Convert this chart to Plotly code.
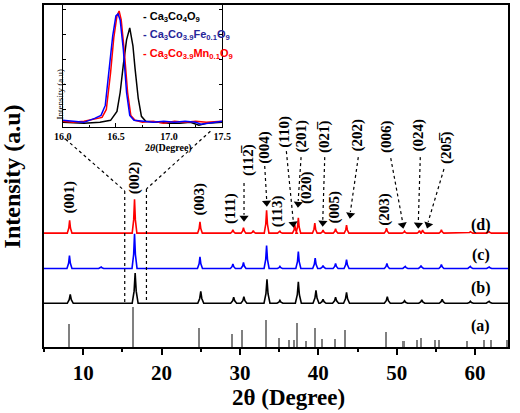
import plotly.graph_objects as go

# ---------------- data ----------------
X_RANGE = [5, 64.2]
Y_RANGE = [0, 344]

# XRD peaks: (2theta, height above baseline)
peaks_d = [(8.27, 13), (16.55, 34), (24.9, 11.5), (29.1, 3.5), (30.45, 5.5), (31.7, 2.5),
           (33.4, 23), (35.1, 2), (37.0, 8), (37.45, 15.5), (39.55, 10), (40.6, 3),
           (42.2, 4.5), (43.6, 8), (48.7, 5), (51.0, 2), (52.9, 2.5), (53.3, 3),
           (55.7, 3.5), (59.4, 1.5), (61.8, 1.5)]
peaks_c = [(8.25, 13), (12.3, 1.5), (16.55, 35), (24.9, 11.7), (29.1, 4.5), (30.45, 6),
           (33.4, 23), (35.1, 2), (37.45, 17), (39.6, 10.5), (40.6, 3), (42.2, 5),
           (43.6, 9), (48.75, 5), (51.1, 2), (53.1, 3), (55.7, 4), (59.4, 2), (61.8, 1.5)]
peaks_b = [(8.35, 9), (16.63, 30.5), (25.0, 12), (29.2, 6), (30.5, 6.5), (33.45, 24),
           (35.1, 3), (37.45, 21.5), (39.7, 13), (40.6, 4), (42.2, 6), (43.6, 11),
           (48.8, 6.5), (51.0, 2.5), (53.2, 3.5), (55.8, 4), (59.4, 2), (61.8, 2)]
offset_d, offset_c, offset_b = 114.5, 79, 44

# reference pattern (a): stick positions and intensities
ref_pos = [8.18, 16.43, 24.8, 29.0, 30.34, 33.35, 35.07, 36.3, 36.9, 37.35, 38.45, 39.55,
           40.45, 42.1, 43.45, 48.65, 50.9, 52.6, 53.1, 54.95, 55.45, 59.05, 61.15, 62.1, 64.1]
ref_int = [23, 40, 19, 13.5, 17.5, 27.5, 9, 7, 7.5, 24, 6, 19,
           8.5, 8.5, 17.5, 15, 6, 7.5, 9.5, 7, 7.5, 6, 7.5, 7, 7]

# inset (002) region
ins_black_x = [16.0, 16.2, 16.35, 16.45, 16.51, 16.54, 16.57, 16.6, 16.63, 16.66, 16.68, 16.71,
               16.74, 16.78, 16.9, 17.0, 17.1, 17.2, 17.28, 17.35, 17.5]
ins_black_y = [5, 4, 5, 7, 16, 35, 63, 88, 100, 82, 59, 29, 11, 6, 5, 4, 4, 5, 2, 4, 5]
ins_red_x = [16.0, 16.1, 16.2, 16.3, 16.37, 16.41, 16.45, 16.48, 16.51, 16.53, 16.55, 16.58,
             16.61, 16.64, 16.68, 16.75, 16.85, 16.95, 17.05, 17.15, 17.25, 17.35, 17.5]
ins_red_y = [6, 5, 6, 8, 10, 18, 55, 90, 112, 117, 108, 75, 35, 12, 7, 5, 6, 4, 6, 5, 6, 5, 6]
ins_blue_x = [16.0, 16.1, 16.2, 16.3, 16.36, 16.4, 16.44, 16.47, 16.5, 16.52, 16.54, 16.57,
              16.6, 16.63, 16.67, 16.75, 16.85, 16.95, 17.05, 17.15, 17.25, 17.3, 17.5]
ins_blue_y = [7, 6, 5, 9, 12, 22, 60, 92, 112, 114, 108, 78, 35, 12, 7, 6, 5, 6, 5, 6, 5, 3, 6]

# Miller index labels (text, 2theta, y)
hkl_labels = [("(001)", 8.27, 151), ("(002)", 16.63, 170), ("(003)", 24.86, 149),
              ("(111)", 28.88, 139), ("(11\u0032\u0305)", 31.02, 188), ("(004)", 33.03, 201),
              ("(110)", 35.67, 217), ("(113)", 34.79, 137), ("(201)", 37.81, 212),
              ("(020)", 38.56, 160), ("(021\u0305)", 40.70, 212), ("(005)", 42.08, 141),
              ("(202)", 44.97, 213), ("(203)", 48.49, 139), ("(006)", 48.61, 212),
              ("(024)", 52.76, 213), ("(205\u0305)", 56.28, 201)]
# arrows: start (x, y) -> end (x, y), head angle
arrows = [((30.52, 165), (30.52, 133), 0), ((33.16, 182), (33.41, 148), -3),
          ((35.92, 197), (36.80, 127), -6), ((37.80, 191), (37.43, 147), 4),
          ((40.82, 191), (40.57, 128), 2), ((45.10, 191), (44.09, 136), 8),
          ((49.24, 190), (50.75, 126), -11), ((53.01, 191), (52.76, 126), 2),
          ((56.03, 179), (54.02, 126), 17)]
zoom_guides = [((7.76, 209), (15.30, 157)), ((15.30, 157), (15.30, 45)),
               ((26.23, 217), (18.07, 159)), ((18.07, 159), (18.07, 45))]
pattern_labels = [("(d)", 123), ("(c)", 93), ("(b)", 59), ("(a)", 21)]
legend_items = [("- Ca<sub>3</sub>Co<sub>4</sub>O<sub>9</sub>", "#000000"),
                ("- Ca<sub>3</sub>Co<sub>3.9</sub>Fe<sub>0.1</sub>O<sub>9</sub>", "#262699"),
                ("- Ca<sub>3</sub>Co<sub>3.9</sub>Mn<sub>0.1</sub>O<sub>9</sub>", "#ff0000")]

SERIF = "Liberation Serif, Times New Roman, serif"
SANS = "Liberation Sans, Arial, sans-serif"


def build(peaks, offset, hw):
    xs, ys = [X_RANGE[0]], [offset]
    for p, h in peaks:
        xs += [p - hw, p - hw * 0.35, p, p + hw * 0.35, p + hw]
        ys += [offset, offset + 0.4 * h, offset + h, offset + 0.4 * h, offset]
    xs.append(X_RANGE[1])
    ys.append(offset)
    return xs, ys


fig = go.Figure()

# reference sticks
fig.add_trace(go.Bar(x=ref_pos, y=ref_int, width=0.2, marker=dict(color="#808080", line=dict(width=0)),
                     showlegend=False, xaxis="x", yaxis="y"))

for peaks, off, col, hw in [(peaks_b, offset_b, "#000000", 0.38),
                            (peaks_c, offset_c, "#0000ff", 0.32),
                            (peaks_d, offset_d, "#ff0000", 0.3)]:
    xs, ys = build(peaks, off, hw)
    fig.add_trace(go.Scatter(x=xs, y=ys, mode="lines", line=dict(color=col, width=1.6),
                             showlegend=False, xaxis="x", yaxis="y"))

# arrow heads
fig.add_trace(go.Scatter(x=[a[1][0] for a in arrows], y=[a[1][1] - 3 for a in arrows], mode="markers",
                         marker=dict(symbol="triangle-down", size=8, color="black",
                                     angle=[a[2] for a in arrows]),
                         showlegend=False, xaxis="x", yaxis="y", hoverinfo="skip"))

# inset
for xs, ys, col in [(ins_black_x, ins_black_y, "#000000"), (ins_red_x, ins_red_y, "#ff0000"),
                    (ins_blue_x, ins_blue_y, "#0000ff")]:
    fig.add_trace(go.Scatter(x=xs, y=ys, mode="lines", line=dict(color=col, width=1.5),
                             showlegend=False, xaxis="x2", yaxis="y2"))

shapes = []
for (x0, y0), (x1, y1), _ in arrows:
    shapes.append(dict(type="line", xref="x", yref="y", x0=x0, y0=y0, x1=x1, y1=y1,
                       line=dict(color="black", width=1.2, dash="dot")))
for (x0, y0), (x1, y1) in zoom_guides:
    shapes.append(dict(type="line", xref="x", yref="y", x0=x0, y0=y0, x1=x1, y1=y1,
                       line=dict(color="black", width=1.2, dash="dot")))

annotations = []
for txt, x, y in hkl_labels:
    annotations.append(dict(text=txt, x=x, y=y, xref="x", yref="y", showarrow=False, textangle=-90,
                            font=dict(family=SERIF, size=15, color="black", weight="bold")))
for txt, y in pattern_labels:
    annotations.append(dict(text=txt, x=60.7, y=y, xref="x", yref="y", showarrow=False,
                            font=dict(family=SERIF, size=16, color="black", weight="bold")))
for i, (txt, col) in enumerate(legend_items):
    annotations.append(dict(text=txt, x=0.208, y=0.965 - i * 0.054, xref="paper", yref="paper",
                            xanchor="left", yanchor="middle", showarrow=False,
                            font=dict(family=SANS, size=11, color=col, weight="bold")))
annotations.append(dict(text="2\u03b8 (Degree)", x=0.5265, y=-0.148, xref="paper", yref="paper",
                        showarrow=False, yanchor="middle",
                        font=dict(family=SERIF, size=23, color="black", weight="bold")))
annotations.append(dict(text="Intensity (a.u)", x=-0.068, y=0.5, xref="paper", yref="paper",
                        showarrow=False, textangle=-90, xanchor="center", yanchor="middle",
                        font=dict(family=SERIF, size=24, color="black", weight="bold")))
annotations.append(dict(text="Intensity (a.u)", x=0.0191, y=0.817, xref="paper", yref="paper",
                        showarrow=False, textangle=-90,
                        font=dict(family=SERIF, size=9, color="black")))
annotations.append(dict(text="2<i>\u03b8</i>(Degree)", x=0.2123, y=0.583, xref="paper", yref="paper",
                        showarrow=False, yanchor="middle",
                        font=dict(family=SERIF, size=10, color="black", weight="bold")))

fig.update_layout(
    width=520, height=413,
    margin=dict(l=44, r=5, t=3, b=66),
    paper_bgcolor="white", plot_bgcolor="white",
    shapes=shapes, annotations=annotations,
    bargap=0,
    xaxis=dict(range=X_RANGE, domain=[0, 1], anchor="y", showline=True, linecolor="black", linewidth=2,
               mirror=True, ticks="outside", tick0=0, dtick=10, ticklen=6, tickwidth=1.5,
               tickcolor="black", showgrid=False, zeroline=False,
               minor=dict(dtick=5, tick0=0, ticks="outside", ticklen=3, tickwidth=1.5, tickcolor="black"),
               tickfont=dict(family=SERIF, size=21, color="black", weight="bold")),
    xaxis3=dict(range=X_RANGE, overlaying="x", side="top", anchor="y", ticks="inside", tick0=0,
                dtick=5, ticklen=5, tickwidth=1.5, tickcolor="black", showticklabels=False,
                showgrid=False, zeroline=False, showline=False),
    yaxis=dict(range=Y_RANGE, domain=[0, 1], anchor="x", showline=True, linecolor="black", linewidth=2,
               mirror=True, ticks="", showticklabels=False, showgrid=False, zeroline=False),
    xaxis2=dict(range=[16.0, 17.5], domain=[0.0403, 0.3843], anchor="y2", showline=True,
                linecolor="black", linewidth=1, mirror=True, ticks="inside", tick0=16, dtick=0.5,
                ticklen=4, tickcolor="black", tickformat=".1f", showgrid=False, zeroline=False,
                minor=dict(dtick=0.25, ticks="inside", ticklen=2, tickcolor="black"),
                tickfont=dict(family=SERIF, size=10, color="black", weight="bold")),
    yaxis2=dict(range=[0, 123], domain=[0.6424, 1.0], anchor="x2", showline=True, linecolor="black",
                linewidth=1, mirror="ticks", ticks="inside", tick0=18, dtick=25, ticklen=3,
                tickcolor="black", showticklabels=False, showgrid=False, zeroline=False),
)

fig.write_html("out.html", config={"displayModeBar": False},
               post_script="document.body.style.margin='0';document.body.style.padding='0';")
